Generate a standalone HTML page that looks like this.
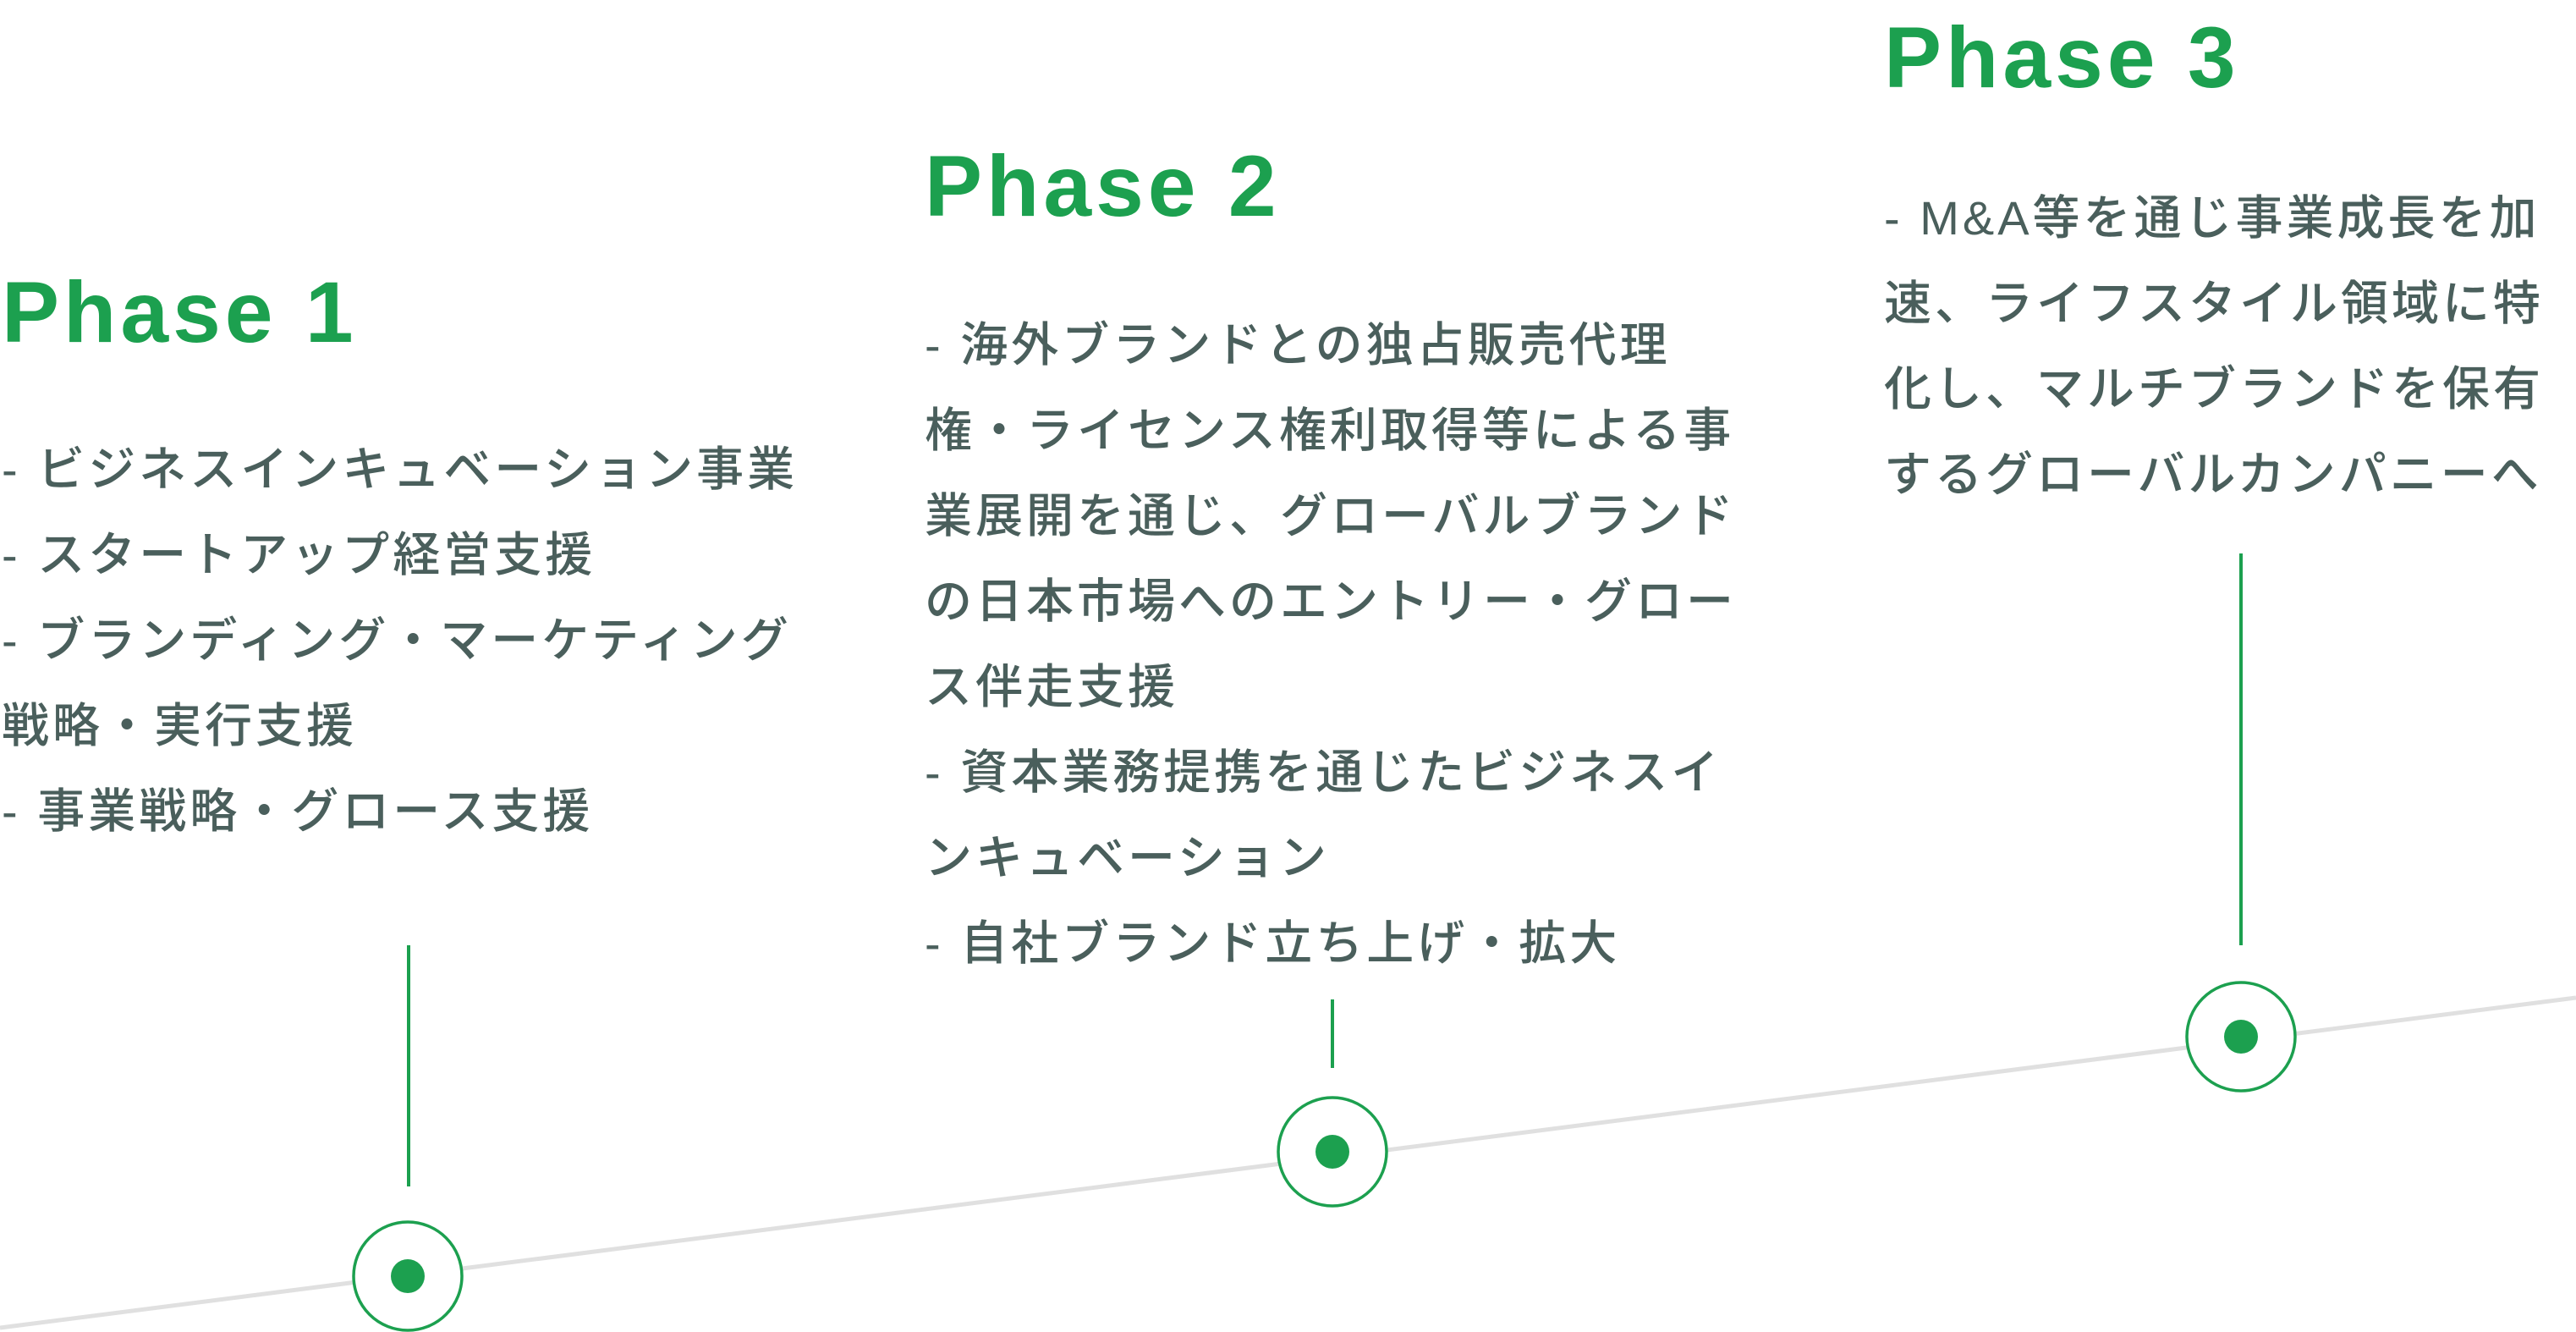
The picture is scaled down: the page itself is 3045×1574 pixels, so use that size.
<!DOCTYPE html>
<html><head><meta charset="utf-8"><style>
body{margin:0;width:3045px;height:1574px;background:#fff;position:relative;overflow:hidden}
.t{position:absolute;font-family:"Liberation Sans","Noto Sans CJK JP",sans-serif;font-weight:bold;color:#1ca04f;font-size:102px;letter-spacing:5px;line-height:1;white-space:nowrap}
.b{position:absolute;font-family:"Liberation Sans","Noto Sans CJK JP",sans-serif;font-weight:500;color:#4a5f5c;font-size:56px;letter-spacing:4px;line-height:101px;white-space:nowrap}
svg{position:absolute;left:0;top:0}
</style></head><body>
<svg width="3045" height="1574">
<line x1="0" y1="1569" x2="3045" y2="1179" stroke="#e0e0e0" stroke-width="5"/>
<g stroke="#1ca04f" stroke-width="4" fill="none">
<line x1="483" y1="1117" x2="483" y2="1402"/>
<line x1="1575" y1="1181" x2="1575" y2="1262"/>
<line x1="2649" y1="654" x2="2649" y2="1117"/>
</g>
<g stroke="#1ca04f" stroke-width="3.5" fill="#fff">
<circle cx="482" cy="1508" r="64"/>
<circle cx="1575" cy="1361" r="64"/>
<circle cx="2649" cy="1225" r="64"/>
</g>
<g fill="#1ca04f">
<circle cx="482" cy="1508" r="20"/>
<circle cx="1575" cy="1361" r="20"/>
<circle cx="2649" cy="1225" r="20"/>
</g>
</svg>
<div class="t" style="left:2px;top:318px">Phase 1</div>
<div class="t" style="left:1093px;top:169px">Phase 2</div>
<div class="t" style="left:2227px;top:17px">Phase 3</div>
<div class="b" style="left:2px;top:504px">- ビジネスインキュベーション事業<br>- スタートアップ経営支援<br>- ブランディング・マーケティング<br>戦略・実行支援<br>- 事業戦略・グロース支援</div>
<div class="b" style="left:1093px;top:357px">- 海外ブランドとの独占販売代理<br>権・ライセンス権利取得等による事<br>業展開を通じ、グローバルブランド<br>の日本市場へのエントリー・グロー<br>ス伴走支援<br>- 資本業務提携を通じたビジネスイ<br>ンキュベーション<br>- 自社ブランド立ち上げ・拡大</div>
<div class="b" style="left:2227px;top:207px">- M&amp;A等を通じ事業成長を加<br>速、ライフスタイル領域に特<br>化し、マルチブランドを保有<br>するグローバルカンパニーへ</div>
</body></html>
